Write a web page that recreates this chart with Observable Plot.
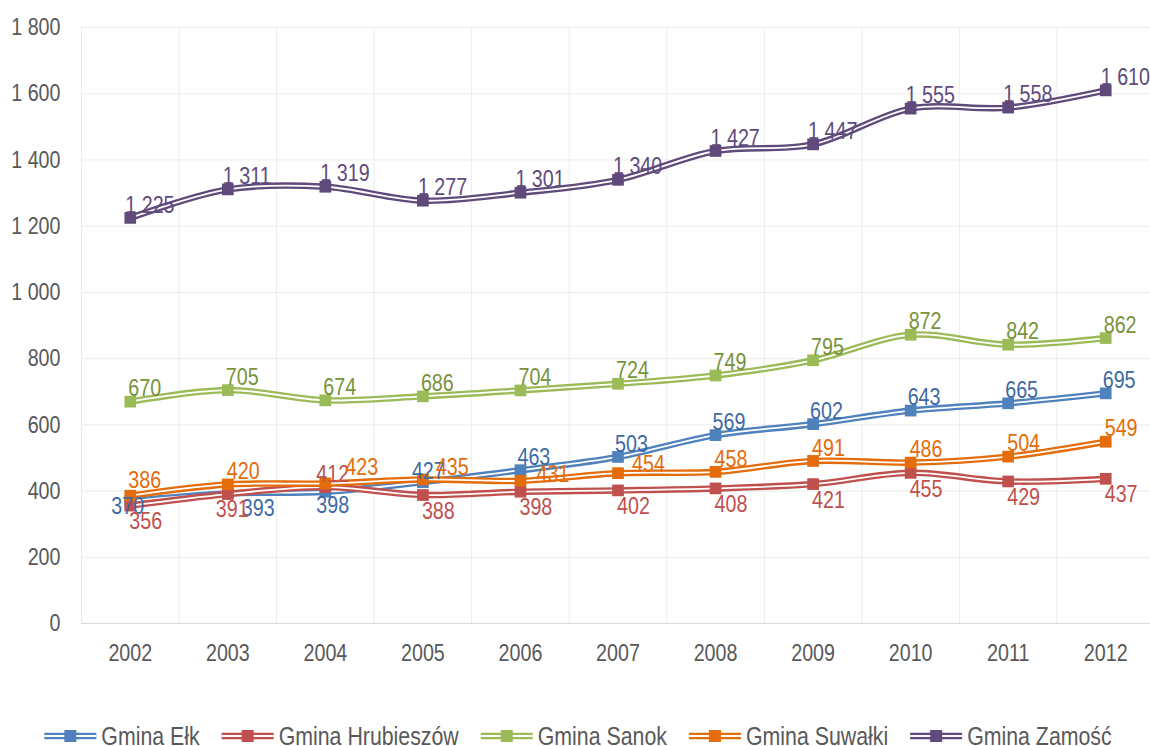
<!DOCTYPE html>
<html><head><meta charset="utf-8">
<script src="https://cdn.jsdelivr.net/npm/d3@7"></script>
<script src="https://cdn.jsdelivr.net/npm/@observablehq/plot@0.6"></script>
<style>
body{margin:0;background:#fff;font-family:"Liberation Sans",Arial,sans-serif;overflow:hidden}
#chart svg,#legend svg{display:block}
</style></head><body><div id="chart"></div><div id="legend"></div>
<script>
const years = ["2002","2003","2004","2005","2006","2007","2008","2009","2010","2011","2012"];
const seriesNames = ["Gmina Ełk","Gmina Hrubieszów","Gmina Sanok","Gmina Suwałki","Gmina Zamość"];
const elk        = [370, 393, 398, 427, 463, 503, 569, 602, 643, 665, 695];
const hrubieszow = [356, 391, 412, 388, 398, 402, 408, 421, 455, 429, 437];
const sanok      = [670, 705, 674, 686, 704, 724, 749, 795, 872, 842, 862];
const suwalki    = [386, 420, 423, 435, 431, 454, 458, 491, 486, 504, 549];
const zamosc     = [1225, 1311, 1319, 1277, 1301, 1340, 1427, 1447, 1555, 1558, 1610];
const yTicks = [0, 200, 400, 600, 800, 1000, 1200, 1400, 1600, 1800];

const seriesValues = [elk, hrubieszow, sanok, suwalki, zamosc];
const lineColors  = ["#4F81BD", "#C0504D", "#9BBB59", "#E46C0A", "#604A7B"];
const labelColors = ["#3E6AA3", "#C0504D", "#77933C", "#E46C0A", "#604A7B"];

// label placement (style, not data): default offsets per series and a few nudges
const labelDefault = [[-3,-13],[-1,16],[-2,-13],[-1,-13],[-5,-13]];
const labelNudges = {
  "0|0":[-19,5], "0|1":[14,15], "0|2":[-9,14], "0|3":[-11,-11],
  "1|1":[-12,15], "1|2":[-9,-13],
  "3|2":[20,-16], "3|3":[13,-12], "3|4":[16,-6], "3|5":[14,-9], "3|0":[-2,-15]
};

const FS = 24, LFS = 26, SQUEEZE = 0.82;
const fmt = d => d3.format(",")(d).replace(/,/g, " ");

const rows = [];
seriesValues.forEach((vals, s) => vals.forEach((v, i) => rows.push({s, i, year: years[i], value: v})));

const marks = [
  Plot.ruleY(yTicks.slice(1), {stroke: "#ececec", strokeWidth: 1}),
  Plot.ruleX(d3.range(years.length + 1).map(k => k - 0.5), {stroke: "#ececec", strokeWidth: 1}),
  Plot.ruleY([0], {stroke: "#d9d9d9", strokeWidth: 1.2})
];
seriesValues.forEach((vals, s) => {
  const d = rows.filter(r => r.s === s);
  marks.push(Plot.line(d, {x: "i", y: "value", stroke: lineColors[s], strokeWidth: 6.5, curve: "cardinal"}));
  marks.push(Plot.line(d, {x: "i", y: "value", stroke: "#fff", strokeWidth: 1.8, curve: "cardinal"}));
  marks.push(Plot.dot(d, {x: "i", y: "value", symbol: "square", r: 6.6, fill: lineColors[s], stroke: "none"}));
});
rows.forEach(r => {
  const [dx, dy] = labelNudges[r.s + "|" + r.i] || labelDefault[r.s];
  marks.push(Plot.text([r], {x: "i", y: "value", text: d => fmt(d.value), textAnchor: "start",
    dx, dy, fill: labelColors[r.s], fontSize: FS}));
});

const chart = Plot.plot({
  width: 1150, height: 690,
  marginLeft: 81, marginRight: -4, marginTop: 27, marginBottom: 67,
  style: {fontFamily: '"Liberation Sans",Arial,sans-serif', fontSize: FS + "px", color: "#595959", background: "#fff", overflow: "visible"},
  x: {domain: [-0.5, years.length - 0.5], ticks: d3.range(years.length), tickFormat: i => years[i], tickSize: 0, tickPadding: 20, label: null},
  y: {domain: [0, 1800], ticks: yTicks, tickFormat: fmt, tickSize: 0, tickPadding: 21, label: null},
  marks
});
document.getElementById("chart").appendChild(chart);

function squeeze(root) {
  root.querySelectorAll("text").forEach(t => {
    const L = t.getComputedTextLength();
    if (L > 0) { t.setAttribute("textLength", L * SQUEEZE); t.setAttribute("lengthAdjust", "spacingAndGlyphs"); }
  });
}
squeeze(chart);

// legend (below the plot SVG)
const ns = "http://www.w3.org/2000/svg";
const leg = document.createElementNS(ns, "svg");
leg.setAttribute("width", 1150); leg.setAttribute("height", 56);
leg.style.fontFamily = '"Liberation Sans",Arial,sans-serif';
document.getElementById("legend").appendChild(leg);
const items = [];
let x = 0;
const cy = 46, swW = 52, swGap = 5, itemGap = 22;
seriesNames.forEach((name, s) => {
  const g = document.createElementNS(ns, "g");
  g.innerHTML = `<line x1="0" x2="${swW}" y1="${cy}" y2="${cy}" stroke="${lineColors[s]}" stroke-width="6.5"/><line x1="0" x2="${swW}" y1="${cy}" y2="${cy}" stroke="#fff" stroke-width="1.8"/><rect x="${swW/2-6}" y="${cy-6}" width="12" height="12" fill="${lineColors[s]}"/><text x="${swW+swGap}" y="${cy}" dy="0.35em" font-size="${LFS}" fill="#595959">${name}</text>`;
  leg.appendChild(g);
  const t = g.querySelector("text");
  const L = t.getComputedTextLength() * SQUEEZE;
  t.setAttribute("textLength", L); t.setAttribute("lengthAdjust", "spacingAndGlyphs");
  items.push({g, x});
  x += swW + swGap + L + itemGap;
});
const total = x - itemGap;
const x0 = 578 - total / 2;
items.forEach(it => it.g.setAttribute("transform", `translate(${x0 + it.x},0)`));
</script></body></html>
